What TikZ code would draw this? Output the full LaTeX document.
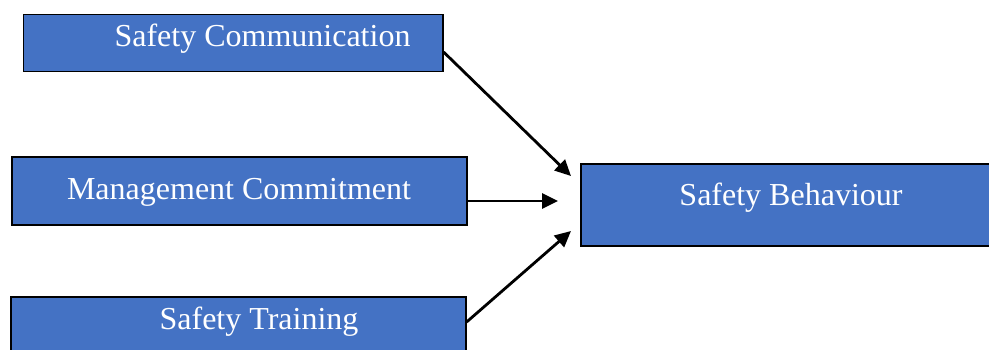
\documentclass[tikz,border=0pt]{standalone}
\usepackage{fontspec}
\setmainfont{Liberation Serif}
\usetikzlibrary{arrows.meta}
\definecolor{boxblue}{HTML}{4472C4}
\tikzset{
  blockbox/.style={draw=black,line width=0.6pt,fill=boxblue,rectangle,inner sep=0pt},
  blocktext/.style={anchor=base,text=white,font=\fontsize{16}{19}\selectfont,inner sep=0pt},
  flow/.style={line width=1.4pt,-{Triangle[length=8pt,width=7.5pt]}}
}
\begin{document}
\begin{tikzpicture}[x=0.5pt,y=-0.5pt]
        \useasboundingbox (0,0) rectangle (989,349);

        \node (comm) at (233.25,43) [blockbox,minimum width=209.75pt,minimum height=28.5pt]{};
        \node (commtext) at (262.5,46) [blocktext]{Safety Communication};
        \node (mgmt) at (239.5,191) [blockbox,minimum width=227.5pt,minimum height=34pt]{};
        \node (mgmttext) at (239,199) [blocktext]{Management Commitment};
        \node (train) at (238.5,330) [blockbox,minimum width=227.5pt,minimum height=33pt]{};
        \node (traintext) at (259,329) [blocktext]{Safety Training};
        \node (behav) at (787,205) [blockbox,minimum width=206pt,minimum height=41pt]{};
        \node (behavtext) at (791,205) [blocktext]{Safety Behaviour};

        \coordinate (tipa) at (571,176);
        \coordinate (tipb) at (558,201);
        \coordinate (tipc) at (571,231);
        \draw[flow] ([yshift=-4.5pt]comm.east) -- (tipa);
        \draw[flow] ([yshift=-5pt]mgmt.east) -- (tipb);
        \draw[flow] ([yshift=4pt]train.east) -- (tipc);
      \end{tikzpicture}
\end{document}
